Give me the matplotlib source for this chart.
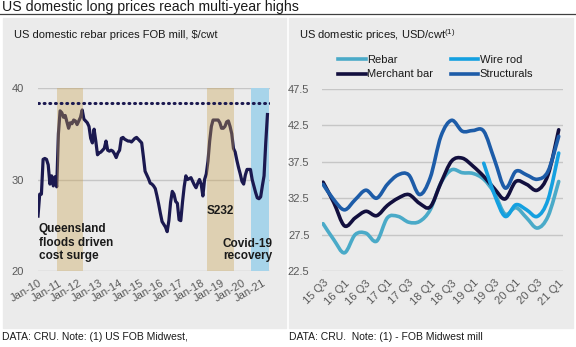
import numpy as np
import matplotlib
matplotlib.use("Agg")
from matplotlib import pyplot as plt
from matplotlib.patches import Rectangle, PathPatch
from matplotlib.path import Path
from matplotlib.lines import Line2D

plt.rcParams['font.family'] = ['Liberation Sans', 'DejaVu Sans']
plt.rcParams['mathtext.fontset'] = 'custom'
plt.rcParams['mathtext.rm'] = 'Liberation Sans'

# ---- left chart: monthly rebar price, Jan-10 .. Apr-21 ($/cwt)
rebar_monthly = [
    26.0, 28.4, 28.4, 32.2, 32.3, 32.2, 31.6, 29.5, 30.4, 29.3, 30.3, 29.2,
    35.0, 37.5, 37.3, 36.8, 37.0, 36.3, 35.6, 36.2, 36.1, 36.5, 36.4, 36.0,
    36.4, 36.8, 37.6, 36.6, 36.4, 36.2, 35.8, 34.5, 34.0, 35.5, 34.2, 32.7,
    32.9, 33.0, 33.2, 33.4, 34.2, 33.2, 33.1, 33.2, 33.1, 32.8, 32.4, 32.9,
    33.2, 34.5, 34.6, 34.4, 34.3, 34.2, 34.2, 34.1, 34.3, 34.5, 34.6, 34.4,
    34.2, 34.0, 32.5, 30.9, 30.5, 30.1, 29.6, 29.5, 29.3, 29.0, 28.2, 27.3,
    26.3, 25.4, 25.1, 24.8, 24.3, 25.5, 27.5, 28.7, 28.4, 27.6, 27.4, 25.6,
    25.5, 27.5, 29.2, 30.4, 30.0, 30.1, 30.2, 29.8, 29.4, 29.1, 29.6, 30.0,
    29.5, 28.2, 30.0, 30.6, 32.0, 34.2, 35.8, 36.5, 36.5, 36.5, 36.5, 36.2,
    35.6, 35.6, 35.8, 36.3, 36.4, 35.8, 35.0, 33.4, 33.0, 32.1, 31.3, 30.6,
    29.8, 29.5, 30.5, 31.1, 31.1, 31.1, 30.0, 29.3, 28.6, 28.0, 27.9, 28.1,
    29.3, 30.4, 34.0, 37.1,
]
year_labels = ['Jan-%02d' % y for y in range(10, 22)]
record_level = 38.4
# shaded periods, in months from Jan-10
bands = [(11, 26.5), (99.5, 115.5)]
covid_band = (125.5, 136.2)

# ---- right chart: quarterly prices 15 Q3 .. 21 Q1 (USD/cwt)
quarters = ['15 Q3', '15 Q4', '16 Q1', '16 Q2', '16 Q3', '16 Q4', '17 Q1', '17 Q2',
            '17 Q3', '17 Q4', '18 Q1', '18 Q2', '18 Q3', '18 Q4', '19 Q1', '19 Q2',
            '19 Q3', '19 Q4', '20 Q1', '20 Q2', '20 Q3', '20 Q4', '21 Q1']
rebar = [29.0, 26.8, 25.0, 27.5, 27.7, 26.6, 29.8, 30.0, 29.2, 29.3, 30.9, 34.6,
         36.4, 36.0, 35.9, 35.1, 33.2, 30.3, 31.2, 29.8, 28.4, 30.0, 34.8]
wire_rod = [None] * 15 + [37.3, 33.0, 30.0, 31.6, 30.9, 30.0, 32.3, 38.7]
merchant_bar = [34.7, 31.9, 28.7, 29.8, 30.7, 30.1, 31.5, 32.5, 33.0, 31.8, 31.3, 34.6,
                37.6, 38.0, 36.9, 35.5, 33.8, 32.4, 34.8, 34.4, 33.6, 35.7, 41.9]
structurals = [34.4, 32.3, 30.9, 32.3, 33.6, 32.5, 34.4, 35.7, 35.7, 33.0, 35.3, 41.0,
               43.2, 41.7, 41.8, 41.7, 37.8, 33.9, 36.2, 35.7, 35.1, 36.2, 41.0]

W, H = 576, 347
fig = plt.figure(figsize=(W / 100, H / 100), dpi=100)


def fx(x):
    return x / W


def fy(y):
    return 1 - y / H


def axes_px(left, top, right, bottom):
    return fig.add_axes([fx(left), fy(bottom), (right - left) / W, (bottom - top) / H])


def smooth_path(xs, ys):
    # Bezier segments through the points, like a "smoothed line" in Excel
    pts = np.column_stack([xs, ys])
    verts = [pts[0]]
    codes = [Path.MOVETO]
    n = len(pts)
    for i in range(n - 1):
        p0 = pts[max(i - 1, 0)]
        p1 = pts[i]
        p2 = pts[i + 1]
        p3 = pts[min(i + 2, n - 1)]
        verts += [p1 + (p2 - p0) / 6, p2 - (p3 - p1) / 6, p2]
        codes += [Path.CURVE4] * 3
    return Path(verts, codes)


grey_txt = '#595959'
panel_bg = '#ebebeb'

# title and rule
fig.text(fx(2), fy(7.5), 'US domestic long prices reach multi-year highs',
         fontsize=10.2, color='#1a1a1a', va='center', ha='left')
fig.add_artist(Line2D([0, 1], [fy(14), fy(14)], color='#404040', lw=0.9))

# panel backgrounds
fig.add_artist(Rectangle((fx(3), fy(328)), (285.5 - 3) / W, 310 / H,
                         color=panel_bg, zorder=-10))
fig.add_artist(Rectangle((fx(289), fy(328)), (573 - 289) / W, 310 / H,
                         color=panel_bg, zorder=-10))

# ---------------- left chart
ax1 = axes_px(37.5, 88, 270, 271)
ax1.patch.set_alpha(0)
months = np.arange(len(rebar_monthly))
ax1.plot(months, rebar_monthly, color='#1b1950', lw=2.3, zorder=3,
         solid_joinstyle='round')
for a, b in bands:
    ax1.axvspan(a, b, color='#c9a14e', alpha=0.36, lw=0, zorder=4)
ax1.axvspan(*covid_band, color='#a7d4ea', lw=0, zorder=1)
ax1.axhline(record_level, color='#1b1950', lw=2.2, ls=(0, (0.3, 1.55)),
            dash_capstyle='round', zorder=5)
ax1.set_xlim(-0.3, 136.5)
ax1.set_ylim(20, 40)
ax1.set_yticks([20, 30, 40])
ax1.set_xticks(np.arange(0, 133, 12))
ax1.set_xticklabels(year_labels, rotation=30, ha='right', rotation_mode='anchor')
ax1.grid(axis='y', color='#c6c6c6', lw=1)
ax1.set_axisbelow(True)
for s in ax1.spines.values():
    s.set_visible(False)
ax1.tick_params(length=0, labelsize=8, labelcolor=grey_txt)
ax1.tick_params(axis='y', pad=10)
ax1.tick_params(axis='x', pad=5)

bold = dict(fontsize=8.5, fontweight='bold', color='#1a1a1a')
ax1.text(0.5, 25.2, 'Queensland\nfloods driven\ncost surge', va='top', ha='left',
         linespacing=1.15, zorder=6, **bold)
ax1.text(99.5, 26.6, 'S232', va='center', ha='left', zorder=6, **bold)
ax1.text(138, 22.3, 'Covid-19\nrecovery', va='center', ha='right',
         linespacing=1.1, zorder=6, **bold)

fig.text(fx(14), fy(35.5), 'US domestic rebar prices FOB mill, $/cwt',
         fontsize=8, color='#1a1a1a', va='center')

# ---------------- right chart
ax2 = axes_px(322, 89, 563, 271)
ax2.patch.set_alpha(0)
series = [('Rebar', rebar, '#4aaac8'),
          ('Merchant bar', merchant_bar, '#120f3e'),
          ('Wire rod', wire_rod, '#14a0e0'),
          ('Structurals', structurals, '#1d5ca8')]
handles = []
for name, vals, col in series:
    xs = [i for i, v in enumerate(vals) if v is not None]
    ys = [v for v in vals if v is not None]
    ax2.add_patch(PathPatch(smooth_path(xs, ys), fill=False, edgecolor=col,
                            lw=2.6, capstyle='round', joinstyle='round', zorder=3))
    handles.append(Line2D([], [], color=col, lw=2.6))
ax2.set_xlim(-0.1, 22.4)
ax2.set_ylim(22.5, 47.5)
ax2.set_yticks([22.5, 27.5, 32.5, 37.5, 42.5, 47.5])
ax2.set_yticklabels(['22.5', '27.5', '32.5', '37.5', '42.5', '47.5'])
ax2.set_xticks(np.arange(0, 23, 2))
ax2.set_xticklabels(quarters[::2], rotation=45, ha='right', rotation_mode='anchor')
ax2.grid(axis='y', color='#c6c6c6', lw=1)
ax2.set_axisbelow(True)
for s in ax2.spines.values():
    s.set_visible(False)
ax2.tick_params(length=0, labelsize=8, labelcolor=grey_txt)
ax2.tick_params(axis='y', pad=9)
ax2.tick_params(axis='x', pad=5)

ax2.legend(handles, [s[0] for s in series], ncol=2, frameon=False,
           loc='upper left', bbox_to_anchor=(fx(338), fy(55)),
           bbox_transform=fig.transFigure, fontsize=8, handlelength=2.5,
           handletextpad=0.1, columnspacing=1.6, labelspacing=0.4,
           borderpad=0, borderaxespad=0, labelcolor='#1a1a1a')

fig.text(fx(299), fy(35.5), r'US domestic prices, USD/cwt$^{(1)}$',
         fontsize=8, color='#1a1a1a', va='center')

# footers
fig.text(fx(2), fy(337.5), 'DATA: CRU. Note: (1) US FOB Midwest,',
         fontsize=7.5, color='#1a1a1a', va='center')
fig.text(fx(289), fy(337.5), 'DATA: CRU.  Note: (1) - FOB Midwest mill',
         fontsize=7.5, color='#1a1a1a', va='center')

fig.savefig('out.png', dpi=100)
